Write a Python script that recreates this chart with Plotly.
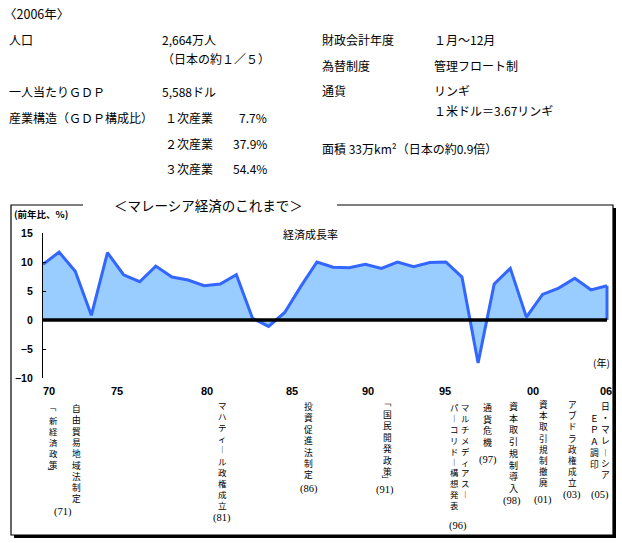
import plotly.graph_objects as go

# ---------------- data ----------------
years = list(range(1971, 2007))
growth = [9.6, 11.7, 8.4, 0.8, 11.6, 7.8, 6.6, 9.3, 7.4, 6.9,
          5.9, 6.2, 7.8, 0.3, -1.1, 1.3, 5.8, 10.0, 9.1, 9.0,
          9.6, 8.9, 10.0, 9.2, 9.9, 10.0, 7.4, -7.4, 6.2, 8.9,
          0.5, 4.4, 5.5, 7.2, 5.2, 5.9]
x_tick_labels = ["70", "75", "80", "85", "90", "95", "00", "06"]
y_tick_values = [-10, -5, 0, 5, 10, 15]

info_left = [
    ("人口", "2,664万人"),
    ("", "（日本の約１／５）"),
    ("一人当たりＧＤＰ", "5,588ドル"),
    ("産業構造（ＧＤＰ構成比）", ""),
]
industry_names = ["１次産業", "２次産業", "３次産業"]
industry_shares = ["7.7%", "37.9%", "54.4%"]
info_right = [
    ("財政会計年度", "１月～12月"),
    ("為替制度", "管理フロート制"),
    ("通貨", "リンギ"),
    ("", "１米ドル＝3.67リンギ"),
]
area_text = "面積 33万km²（日本の約0.9倍）"

event_labels = ["「新経済政策」", "自由貿易地域法制定", "マハティール政権成立", "投資促進法制定",
                "「国民開発政策」", "マルチメディアスー\nパーコリドー構想発表", "通貨危機",
                "資本取引規制導入", "資本取引規制撤廃", "アブドラ政権成立",
                "日・マレーシア\n　ＥＰＡ調印"]
event_years = ["(71)", "(81)", "(86)", "(91)", "(96)", "(97)", "(98)", "(01)", "(03)", "(05)"]

# ---------------- layout helpers ----------------
FIG_W, FIG_H = 622, 543
L, W, T, H = 43, 566, 233, 145
PX_PER_YEAR = 564 / 35.0
LINE_SPACING = 1.3  # plotly's multi-line text spacing


def px(x):
    return (x - L) / W


def py(y):
    return (T + H - y) / H


def year_at(x):
    return years[0] + (x - L) / PX_PER_YEAR


JP = "Noto Sans CJK JP"
fig = go.Figure()

fig.add_trace(go.Scatter(
    x=years, y=growth, mode="lines", fill="tozeroy",
    fillcolor="#99CCFF", line=dict(color="#3366FF", width=3),
    hoverinfo="skip", showlegend=False))

tick_px = [49, 117, 207, 292, 368, 445, 533, 606]

fig.update_layout(
    width=FIG_W, height=FIG_H,
    margin=dict(l=L, r=FIG_W - L - W, t=T, b=FIG_H - T - H, pad=0),
    paper_bgcolor="white", plot_bgcolor="rgba(0,0,0,0)",
    showlegend=False,
    xaxis=dict(range=[years[0], years[0] + W / PX_PER_YEAR], showgrid=False,
               zeroline=False, showline=False, ticks="",
               tickvals=[year_at(p) for p in tick_px], ticktext=x_tick_labels,
               tickfont=dict(family="Liberation Sans", size=11, color="black", weight=700),
               ticklabelstandoff=5, automargin=False, fixedrange=True),
    yaxis=dict(range=[-10, 15], showgrid=False, zeroline=False,
               showline=True, linecolor="black", linewidth=1.3,
               ticks="inside", ticklen=3, tickwidth=1.3, tickcolor="black",
               tickvals=y_tick_values,
               tickfont=dict(family="Liberation Sans", size=10.5, color="black", weight=700),
               ticklabelstandoff=7, automargin=False, fixedrange=True),
)

shapes = [
    # shadow of box
    dict(type="rect", xref="paper", yref="paper", x0=px(14), x1=px(616), y0=py(538), y1=py(208),
         fillcolor="black", line=dict(width=0), layer="below"),
    # box
    dict(type="rect", xref="paper", yref="paper", x0=px(11), x1=px(613), y0=py(535), y1=py(205),
         fillcolor="white", line=dict(color="black", width=1.2), layer="below"),
    # gap for title
    dict(type="rect", xref="paper", yref="paper", x0=px(83), x1=px(337), y0=py(209), y1=py(201),
         fillcolor="white", line=dict(width=0), layer="below"),
    # closing edge of the area
    dict(type="line", xref="x", yref="y", x0=years[-1], x1=years[-1], y0=0, y1=growth[-1],
         line=dict(color="#3366FF", width=3), layer="above"),
    # zero line
    dict(type="line", xref="x", yref="y", x0=years[0], x1=years[-1], y0=0, y1=0,
         line=dict(color="black", width=3.5), layer="above"),
]

ann = []


def text(x, y, s, size=12, anchor="left", family=JP, weight=None, yanchor="middle", angle=0):
    f = dict(family=family, size=size, color="black")
    if weight:
        f["weight"] = weight
    ann.append(dict(xref="paper", yref="paper", x=px(x), y=py(y), text=s, showarrow=False,
                    xanchor=anchor, yanchor=yanchor, borderpad=0, textangle=angle, font=f))


# top information block
text(3, 13, "〈2006年〉", size=12.5)
left_rows_y = [39, 59, 91, 117]
for (k, v), yy in zip(info_left, left_rows_y):
    if k:
        text(8, yy, k)
    if v:
        text(161, yy, v)
ind_y = [117, 143, 168]
for n, s, yy in zip(industry_names, industry_shares, ind_y):
    text(164, yy, n)
    text(268, yy, s, anchor="right")
right_rows_y = [39, 65, 90, 110]
for (k, v), yy in zip(info_right, right_rows_y):
    if k:
        text(321, yy, k)
    if v:
        text(433, yy, v)
text(321, 148, area_text)

# chart titles
text(209, 205, "＜マレーシア経済のこれまで＞", size=13.5, anchor="center")
text(13, 214, "(前年比、%)", size=9.5, weight=700)
text(310, 234, "経済成長率", size=11, anchor="center")
text(601, 362, "(年)", size=10, anchor="center")

# vertical event labels (one column of stacked characters per text line)
VERT = {"ー": "︱"}
# (x of first column, centre y of first body character, character pitch)
event_pos = [(53, 418, 11.0), (76, 406.5, 11.3), (222, 404, 11.1), (308, 405, 11.4),
             (387, 413, 11.4), (465, 405, 10.9), (487, 406, 11.7), (513, 405, 11.7),
             (543, 403, 11.2), (572, 403, 11.2), (605, 405, 11.4)]
for lab, (x0, y0, pitch) in zip(event_labels, event_pos):
    size = pitch / LINE_SPACING
    for ci, col in enumerate(lab.split("\n")):
        xc = x0 - 11 * ci
        open_b = col.startswith("「")
        close_b = col.endswith("」")
        body = col.strip("「」")
        skip = len(body) - len(body.lstrip("　"))
        body = body.lstrip("　")
        chars = [VERT.get(ch, ch) for ch in body]
        top = y0 + pitch * skip - pitch / 2
        text(xc, top, "<br>".join(chars), size=size, anchor="center", yanchor="top")
        # brackets are turned a quarter turn, as in vertical writing
        if open_b:
            text(xc, y0 - 11, "「", size=size, anchor="center", angle=90)
        if close_b:
            text(xc, y0 + pitch * (len(chars) - 1) + 9, "」", size=size, anchor="center", angle=90)

year_pos = [(63, 512), (222, 518), (309, 489), (385, 490), (458, 526),
            (488, 460), (512, 501), (543, 500), (572, 495), (600, 495)]
for lab, (x0, y0) in zip(event_years, year_pos):
    text(x0, y0, lab, size=10.5, anchor="center", family="Liberation Serif")

fig.update_layout(shapes=shapes, annotations=ann)
fig.write_html("out.html")
